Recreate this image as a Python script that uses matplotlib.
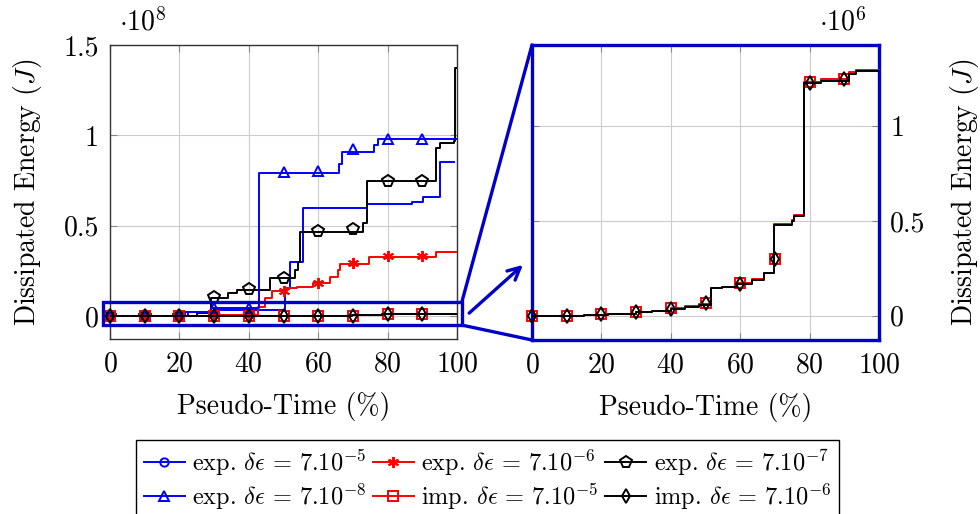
import matplotlib
matplotlib.use("Agg")
import matplotlib.pyplot as plt
from matplotlib.lines import Line2D
from matplotlib.patches import Rectangle, ConnectionPatch
from matplotlib.ticker import FuncFormatter

plt.rcParams['font.family'] = ['cmr10', 'DejaVu Serif']
plt.rcParams['mathtext.fontset'] = 'cm'
plt.rcParams['axes.unicode_minus'] = False
plt.rcParams['axes.formatter.use_mathtext'] = True

# ---------------- data (Pseudo-time %, dissipated energy J) ----------------
mark_x = [0, 10, 20, 30, 40, 50, 60, 70, 80, 90]

# exp. de = 7e-5 (blue, circles)
e5_x = [0, 21, 30, 50.4, 51.9, 55.7, 74, 86.9, 90.2, 95, 99]
e5_y = [0, 0.02e8, 0.035e8, 0.154e8, 0.30e8, 0.60e8, 0.62e8, 0.63e8, 0.66e8, 0.855e8, 0.855e8]
e5_mx = [0, 10, 20]
e5_my = [0, 0, 0]

# exp. de = 7e-6 (red, asterisks)
e6_x = [0, 30, 42.7, 44.7, 46.6, 50.9, 53.8, 58.6, 63.4, 65.8, 66.3, 74.7, 94, 100]
e6_y = [0, 0.008e8, 0.05e8, 0.098e8, 0.14e8, 0.154e8, 0.163e8, 0.185e8, 0.218e8,
        0.255e8, 0.29e8, 0.326e8, 0.355e8, 0.355e8]
e6_my = [0, 0, 0, 0.008e8, 0.008e8, 0.14e8, 0.185e8, 0.296e8, 0.33e8, 0.33e8]

# exp. de = 7e-7 (black, pentagons)
e7_x = [0, 25, 29, 34, 36.5, 46, 53.3, 54.3, 54.8, 73, 74, 94, 95, 99, 99.4, 99.6]
e7_y = [0, 0.015e8, 0.098e8, 0.126e8, 0.145e8, 0.21e8, 0.255e8, 0.30e8, 0.465e8,
        0.515e8, 0.745e8, 0.93e8, 0.96e8, 0.97e8, 1.37e8, 1.37e8]
e7_my = [0, 0, 0, 0.105e8, 0.148e8, 0.21e8, 0.47e8, 0.48e8, 0.746e8, 0.75e8]

# exp. de = 7e-8 (blue, triangles)
e8_x = [0, 22.5, 29, 43.0, 66, 67, 76, 77.3, 100]
e8_y = [0, 0.024e8, 0.043e8, 0.79e8, 0.84e8, 0.91e8, 0.945e8, 0.98e8, 0.98e8]
e8_my = [0, 0, 0, 0.043e8, 0.043e8, 0.795e8, 0.805e8, 0.925e8, 0.98e8, 0.98e8]

# imp. de = 7e-5 (red, squares)
i5_x = [0, 15, 22, 30, 34.7, 40, 44, 48, 51.5, 54.8, 59, 63.5, 66.9, 69.7, 75, 75.5,
        78.4, 83.2, 91.4, 93.3, 100]
i5_y = [0, 0.005e6, 0.01e6, 0.02e6, 0.025e6, 0.04e6, 0.049e6, 0.06e6, 0.146e6,
        0.154e6, 0.172e6, 0.193e6, 0.225e6, 0.485e6, 0.505e6, 0.53e6, 1.235e6,
        1.25e6, 1.285e6, 1.297e6, 1.297e6]
i5_my = [0, 0, 0.01e6, 0.02e6, 0.04e6, 0.067e6, 0.172e6, 0.30e6, 1.235e6, 1.25e6]

# imp. de = 7e-6 (black, diamonds)
i6_x = [0, 15, 22, 30, 34.7, 40, 44, 48, 51.5, 54.8, 59, 63.5, 66.9, 69.7, 75, 75.5,
        78.4, 83.2, 91.4, 93.3, 100]
i6_y = [0, 0.004e6, 0.008e6, 0.018e6, 0.024e6, 0.038e6, 0.048e6, 0.058e6, 0.144e6,
        0.152e6, 0.170e6, 0.191e6, 0.223e6, 0.48e6, 0.50e6, 0.525e6, 1.225e6,
        1.24e6, 1.277e6, 1.29e6, 1.29e6]
i6_my = [0, 0, 0.008e6, 0.018e6, 0.038e6, 0.065e6, 0.17e6, 0.30e6, 1.228e6, 1.25e6]

labels = [r'exp. $\delta\epsilon\,=\,7.10^{-5}$', r'exp. $\delta\epsilon\,=\,7.10^{-6}$',
          r'exp. $\delta\epsilon\,=\,7.10^{-7}$', r'exp. $\delta\epsilon\,=\,7.10^{-8}$',
          r'imp. $\delta\epsilon\,=\,7.10^{-5}$', r'imp. $\delta\epsilon\,=\,7.10^{-6}$']

BLUE = '#0000ff'
RED = '#ff0000'
BLACK = '#000000'
ZOOM = '#0000c8'
ASTER = (6, 2, 0)

styles = [
    dict(color=BLUE, marker='o', ms=6),
    dict(color=RED, marker=ASTER, ms=8),
    dict(color=BLACK, marker='p', ms=8.5),
    dict(color=BLUE, marker='^', ms=7),
    dict(color=RED, marker='s', ms=7),
    dict(color=BLACK, marker='d', ms=7),
]

LW = 1.4
FS = 20

fig = plt.figure(figsize=(9.8, 5.14), dpi=100)
W, H = 980, 514
ax1 = fig.add_axes([110 / W, 1 - 339 / H, 347 / W, 294 / H])
ax2 = fig.add_axes([532 / W, 1 - 340 / H, 347 / W, 295 / H])


def draw(ax, xs, ys, mx, my, st, z):
    ax.plot(xs, ys, drawstyle='steps-post', color=st['color'], lw=LW, zorder=z)
    ax.plot(mx, my, linestyle='none', marker=st['marker'], ms=st['ms'],
            mfc='none', mec=st['color'], mew=1.4, zorder=z + 0.5, clip_on=False)


series = [
    (e5_x, e5_y, e5_mx, e5_my),
    (e6_x, e6_y, mark_x, e6_my),
    (e7_x, e7_y, mark_x, e7_my),
    (e8_x, e8_y, mark_x, e8_my),
    (i5_x, i5_y, mark_x, i5_my),
    (i6_x, i6_y, mark_x, i6_my),
]

for k, (xs, ys, mx, my) in enumerate(series):
    draw(ax1, xs, ys, mx, my, styles[k], 3 + k)

for k in (4, 5):
    xs, ys, mx, my = series[k]
    draw(ax2, xs, ys, mx, my, styles[k], 3 + k)

# axes styling
for ax in (ax1, ax2):
    ax.set_xlim(0, 100)
    ax.set_xticks([0, 20, 40, 60, 80, 100])
    ax.grid(True, color='#cccccc', lw=0.8, zorder=0)
    ax.set_axisbelow(True)
    ax.tick_params(direction='in', length=5, color='#888888', labelsize=FS,
                   top=True, right=True, pad=8)
    ax.tick_params(axis='x', pad=9)
    ax.set_xlabel('Pseudo-Time (%)', fontsize=FS, labelpad=10)

ax1.set_ylim(-0.127e8, 1.5e8)
ax1.set_yticks([0, 0.5e8, 1e8, 1.5e8])
ax1.yaxis.set_major_formatter(FuncFormatter(lambda v, p: '%g' % (v / 1e8)))
for s in ax1.spines.values():
    s.set_color('#333333')
    s.set_linewidth(1.0)
ax1.set_ylabel('Dissipated Energy $(J)$', fontsize=FS)
ax1.yaxis.set_label_coords(-0.19, 0.5)
ax1.text(0.025, 1.03, r'$\cdot 10^{8}$', transform=ax1.transAxes, fontsize=FS,
         ha='left', va='bottom')

ax2.set_ylim(-0.128e6, 1.428e6)
ax2.set_yticks([0, 0.5e6, 1e6])
ax2.yaxis.set_major_formatter(FuncFormatter(lambda v, p: '%g' % (v / 1e6)))
ax2.tick_params(axis='y', labelleft=False, labelright=True)
for s in ax2.spines.values():
    s.set_color(ZOOM)
    s.set_linewidth(2.4)
ax2.yaxis.set_label_position('right')
ax2.set_ylabel('Dissipated Energy $(J)$', fontsize=FS)
ax2.yaxis.set_label_coords(1.2, 0.5)
ax2.text(0.965, 1.03, r'$\cdot 10^{6}$', transform=ax2.transAxes, fontsize=FS,
         ha='right', va='bottom')

# zoom indicator
rx0, rx1, ry0, ry1 = -2, 101.4, -0.05e8, 0.078e8
rect = Rectangle((rx0, ry0), rx1 - rx0, ry1 - ry0, fill=False, ec=ZOOM, lw=2.4,
                 clip_on=False, zorder=20)
ax1.add_patch(rect)
for (yy, ay) in ((ry1, 1.0), (ry0, 0.0)):
    cp = ConnectionPatch(xyA=(rx1, yy), coordsA=ax1.transData,
                         xyB=(0.0, ay), coordsB=ax2.transAxes,
                         color=ZOOM, lw=2.4, zorder=20)
    fig.add_artist(cp)
ax1.annotate('', xy=(1.19, 0.252), xytext=(1.035, 0.088),
             xycoords='axes fraction', textcoords='axes fraction',
             annotation_clip=False,
             arrowprops=dict(arrowstyle='->', color=ZOOM, lw=2.4,
                             mutation_scale=22, shrinkA=0, shrinkB=0))

# legend (row-major order as in the reference)
handles = [Line2D([], [], color=st['color'], lw=LW, marker=st['marker'],
                  ms=st['ms'], mfc='none', mec=st['color'], mew=1.4) for st in styles]
order = [0, 3, 1, 4, 2, 5]
leg = fig.legend([handles[i] for i in order], [labels[i] for i in order],
                 loc='upper center', bbox_to_anchor=(487.5 / W, 1 - 440 / H),
                 ncol=3, fontsize=17.5, frameon=True, fancybox=False, edgecolor='black',
                 framealpha=1, handlelength=1.7, handletextpad=0.3, columnspacing=0.25,
                 labelspacing=0.15, borderpad=0.3, borderaxespad=0)
leg.get_frame().set_linewidth(1.0)

fig.savefig('out.png', dpi=100)
